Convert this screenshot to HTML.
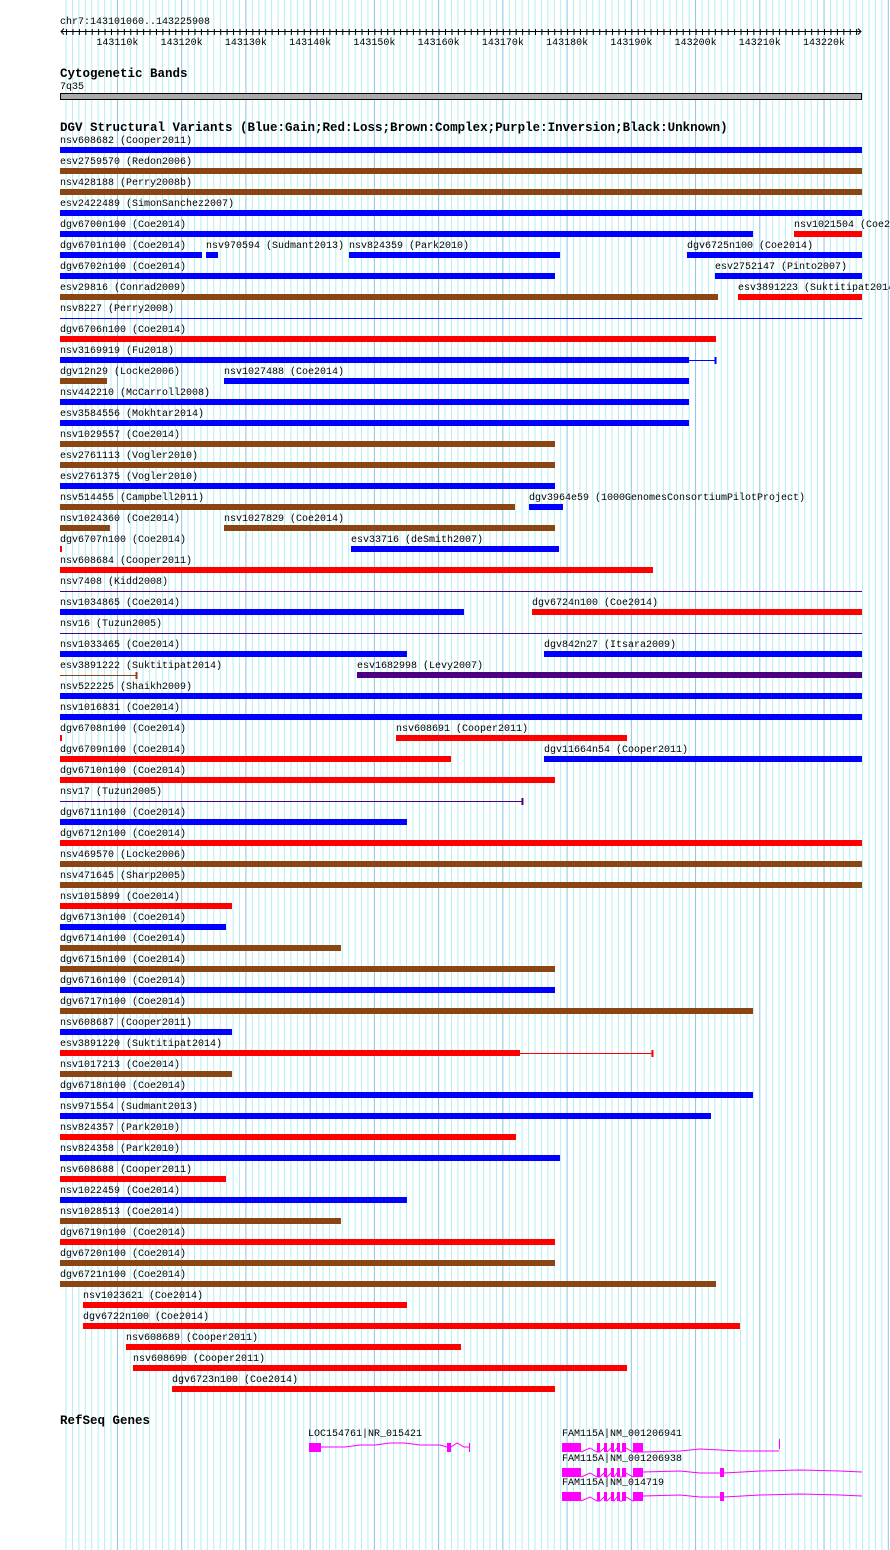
<!DOCTYPE html>
<html><head><meta charset="utf-8"><style>
body{margin:0;background:#fff}
svg{display:block}
text{font-family:"Liberation Mono",monospace;font-size:10px;fill:#000}
.hd{font-weight:bold;font-size:12.5px}
</style></head><body>
<svg id="c" width="890" height="1550" xmlns="http://www.w3.org/2000/svg"></svg>
<script>
// region (kb offsets from 143,100,000)
const regionStart = 1.06;
const regionEnd = 125.908;
const tickLabels = ["143110k","143120k","143130k","143140k","143150k","143160k","143170k","143180k","143190k","143200k","143210k","143220k"];
const tickKb = [10,20,30,40,50,60,70,80,90,100,110,120];
// variant features: row, name, start, end, thickEnd (0 = all thin), type 0 blue 1 red 2 brown 3 purple
const featRow = [0,1,2,3,4,4,5,5,5,5,6,6,7,7,8,9,10,11,11,12,13,14,15,16,17,17,18,18,19,19,20,21,22,22,23,24,24,25,25,26,27,28,28,29,29,30,31,32,33,34,35,36,37,38,39,40,41,42,43,44,45,46,47,48,49,50,51,52,53,54,55,56,57,58,59];
const featName = ["nsv608682 (Cooper2011)","esv2759570 (Redon2006)","nsv428188 (Perry2008b)","esv2422489 (SimonSanchez2007)","dgv6700n100 (Coe2014)","nsv1021504 (Coe2014)","dgv6701n100 (Coe2014)","nsv970594 (Sudmant2013)","nsv824359 (Park2010)","dgv6725n100 (Coe2014)","dgv6702n100 (Coe2014)","esv2752147 (Pinto2007)","esv29816 (Conrad2009)","esv3891223 (Suktitipat2014)","nsv8227 (Perry2008)","dgv6706n100 (Coe2014)","nsv3169919 (Fu2018)","dgv12n29 (Locke2006)","nsv1027488 (Coe2014)","nsv442210 (McCarroll2008)","esv3584556 (Mokhtar2014)","nsv1029557 (Coe2014)","esv2761113 (Vogler2010)","esv2761375 (Vogler2010)","nsv514455 (Campbell2011)","dgv3964e59 (1000GenomesConsortiumPilotProject)","nsv1024360 (Coe2014)","nsv1027829 (Coe2014)","dgv6707n100 (Coe2014)","esv33716 (deSmith2007)","nsv608684 (Cooper2011)","nsv7408 (Kidd2008)","nsv1034865 (Coe2014)","dgv6724n100 (Coe2014)","nsv16 (Tuzun2005)","nsv1033465 (Coe2014)","dgv842n27 (Itsara2009)","esv3891222 (Suktitipat2014)","esv1682998 (Levy2007)","nsv522225 (Shaikh2009)","nsv1016831 (Coe2014)","dgv6708n100 (Coe2014)","nsv608691 (Cooper2011)","dgv6709n100 (Coe2014)","dgv11664n54 (Cooper2011)","dgv6710n100 (Coe2014)","nsv17 (Tuzun2005)","dgv6711n100 (Coe2014)","dgv6712n100 (Coe2014)","nsv469570 (Locke2006)","nsv471645 (Sharp2005)","nsv1015899 (Coe2014)","dgv6713n100 (Coe2014)","dgv6714n100 (Coe2014)","dgv6715n100 (Coe2014)","dgv6716n100 (Coe2014)","dgv6717n100 (Coe2014)","nsv608687 (Cooper2011)","esv3891220 (Suktitipat2014)","nsv1017213 (Coe2014)","dgv6718n100 (Coe2014)","nsv971554 (Sudmant2013)","nsv824357 (Park2010)","nsv824358 (Park2010)","nsv608688 (Cooper2011)","nsv1022459 (Coe2014)","nsv1028513 (Coe2014)","dgv6719n100 (Coe2014)","dgv6720n100 (Coe2014)","dgv6721n100 (Coe2014)","nsv1023621 (Coe2014)","dgv6722n100 (Coe2014)","nsv608689 (Cooper2011)","nsv608690 (Cooper2011)","dgv6723n100 (Coe2014)"];
const featStart = [1.06,1.06,1.06,1.06,1.06,115.32,1.06,23.79,46.05,98.66,1.06,103.02,1.06,106.6,1.06,1.06,1.06,1.06,26.59,1.06,1.06,1.06,1.06,1.06,1.06,74.07,1.06,26.59,1.06,46.36,1.06,1.06,1.06,74.54,1.06,1.06,76.4,1.06,47.29,1.06,1.06,1.06,53.37,1.06,76.4,1.06,1.06,1.06,1.06,1.06,1.06,1.06,1.06,1.06,1.06,1.06,1.06,1.06,1.06,1.06,1.06,1.06,1.06,1.06,1.06,1.06,1.06,1.06,1.06,1.06,4.64,4.64,11.33,12.42,18.5];
const featEnd = [125.91,125.91,125.91,125.91,108.94,125.91,23.16,25.66,78.9,125.91,78.12,125.91,103.49,125.91,125.91,103.18,103.18,8.38,98.98,98.98,98.98,78.12,78.12,78.12,71.89,79.36,8.84,78.12,1.37,78.74,93.37,125.91,63.95,125.91,125.91,55.08,125.91,13.05,125.91,125.91,125.91,1.37,89.33,61.93,125.91,78.12,73.13,55.08,125.91,125.91,125.91,27.84,26.9,44.8,78.12,78.12,108.94,27.84,93.37,27.84,108.94,102.4,72.05,78.9,26.9,55.08,44.8,78.12,78.12,103.18,55.08,106.91,63.48,89.33,78.12];
const featThickEnd = [125.91,125.91,125.91,125.91,108.94,125.91,23.16,25.66,78.9,125.91,78.12,125.91,103.49,125.91,0,103.18,98.98,8.38,98.98,98.98,98.98,78.12,78.12,78.12,71.89,79.36,8.84,78.12,1.37,78.74,93.37,0,63.95,125.91,0,55.08,125.91,0,125.91,125.91,125.91,1.37,89.33,61.93,125.91,78.12,0,55.08,125.91,125.91,125.91,27.84,26.9,44.8,78.12,78.12,108.94,27.84,72.67,27.84,108.94,102.4,72.05,78.9,26.9,55.08,44.8,78.12,78.12,103.18,55.08,106.91,63.48,89.33,78.12];
const featType = [0,2,2,0,0,1,0,0,0,0,0,0,2,1,0,1,0,2,0,0,0,2,2,0,2,0,2,2,1,0,1,3,0,1,3,0,0,2,3,0,0,1,1,1,0,1,3,0,1,2,2,1,0,2,2,0,2,0,1,2,0,0,1,0,1,0,2,1,2,2,1,1,1,1,1];

const colors = ["#0000ff","#ff0000","#8b4513","#4b0082"];
const X0 = 60, X1 = 862;
const x = kb => X0 + (kb - regionStart) / (regionEnd - regionStart) * (X1 - X0);
const rowY = r => 140 + 21 * r;
const svg = document.getElementById('c');
const NS = "http://www.w3.org/2000/svg";
function mk(tag, attrs, txt){const e=document.createElementNS(NS,tag);for(const k in attrs)e.setAttribute(k,attrs[k]);if(txt!==undefined)e.textContent=txt;svg.appendChild(e);return e;}

// grid
for(let k=Math.ceil(regionStart);x(k)<=890;k++){
  const g=mk('line',{x1:x(k),x2:x(k),y1:0,y2:1550,stroke:k%10===0?'#88c4ea':'#b4eef4','stroke-width':1});
  
  
}
// ruler
let t=mk('text',{x:60,y:24},'chr7:143101060..143225908');


let ax=mk('line',{x1:61,x2:861,y1:31.5,y2:31.5,stroke:'#000'});


mk('path',{d:'M64,28.5 L61,31.5 L64,34.5 M858,28.5 L861,31.5 L858,34.5',stroke:'#000',fill:'none'});
for(let k=Math.ceil(regionStart);k<=regionEnd;k++){
  mk('line',{x1:x(k)+.5,x2:x(k)+.5,y1:29,y2:35,stroke:'#000'});
}
tickKb.forEach((k,i)=>{
  const tl=mk('text',{x:x(k),y:45,'text-anchor':'middle'},tickLabels[i]);
  
  
});
// cytobands
t=mk('text',{x:60,y:77,class:'hd'},'Cytogenetic Bands');


mk('text',{x:60,y:89},'7q35');
let cb=mk('rect',{x:60.5,y:93.5,width:801,height:6,fill:'#aaa',stroke:'#000'});


// DGV
t=mk('text',{x:60,y:131,class:'hd'},'DGV Structural Variants (Blue:Gain;Red:Loss;Brown:Complex;Purple:Inversion;Black:Unknown)');


featRow.forEach((r,i)=>{
  const y=rowY(r), c=colors[featType[i]];
  const xs=Math.max(X0,x(featStart[i])), xe=Math.min(X1,x(featEnd[i]));
  const lb=mk('text',{x:xs,y:y+3},featName[i]);
  
  
  const te=featThickEnd[i];
  if(te>0){
    const xt=Math.min(X1,x(te));
    const b=mk('rect',{x:xs,y:y+7,width:Math.max(2,xt-xs),height:6,fill:c});
    
    
    if(te<featEnd[i]){
      mk('line',{x1:xt,x2:xe,y1:y+10.5,y2:y+10.5,stroke:c});
      mk('line',{x1:xe-.5,x2:xe-.5,y1:y+7,y2:y+14,stroke:c,'stroke-width':2});
    }
  } else {
    const b=mk('line',{x1:xs,x2:xe,y1:y+10.5,y2:y+10.5,stroke:c});
    
    
    if(featEnd[i]<regionEnd-0.5) mk('line',{x1:xe-.5,x2:xe-.5,y1:y+7,y2:y+14,stroke:c,'stroke-width':2});
  }
});
// RefSeq genes
t=mk('text',{x:60,y:1424,class:'hd'},'RefSeq Genes');


const M='#ff00ff';
function gene(label,lx,ly,boxes,path,name){
  const l=mk('text',{x:lx,y:ly},label);
  
  
  const p=mk('polyline',{points:path,fill:'none',stroke:M});
  
  
  boxes.forEach(b=>{const r=mk('rect',{x:b[0],y:ly+7,width:b[1]-b[0],height:9,fill:M});
    
    });
}
gene('LOC154761|NR_015421',308,1436,[[309,321],[447,451]],'321,1447 345,1447 360,1445 375,1445 390,1443 405,1443 420,1445 440,1445 447,1447',"loc154761");
mk('polyline',{points:'451,1447 457,1443 464,1447 469,1447',fill:'none',stroke:M});
mk('line',{x1:469.5,x2:469.5,y1:1443,y2:1452,stroke:M});
const famBoxes=[[562,581],[597,600],[604,607],[611,614],[617,620],[622,626],[633,643]];
const famZig='581,1452 590,1448 597,1452 600,1452 604,1448 607,1452 611,1448 614,1452 617,1448 620,1452 622,1452 626,1448 633,1452';
gene('FAM115A|NM_001206941',562,1436,famBoxes,famZig+' 643,1452 680,1451 700,1449 740,1451 779,1451',"fam115a-1");
mk('line',{x1:779.5,x2:779.5,y1:1439,y2:1449,stroke:M});
[1461,1485].forEach((ly,j)=>{
  const z=famZig.replace(/(\d+),(\d+)/g,(m,a,b)=>a+','+(+b+ly-1436));
  gene('FAM115A|'+(j?'NM_014719':'NM_001206938'),562,ly,famBoxes.concat([[720,724]]),z+' 643,'+(ly+11)+' 680,'+(ly+10)+' 700,'+(ly+12)+' 720,'+(ly+12)+' 724,'+(ly+12)+' 760,'+(ly+10)+' 800,'+(ly+9)+' 840,'+(ly+10)+' 862,'+(ly+11),'fam115a-'+(j+2));
});
</script>
</body></html>
